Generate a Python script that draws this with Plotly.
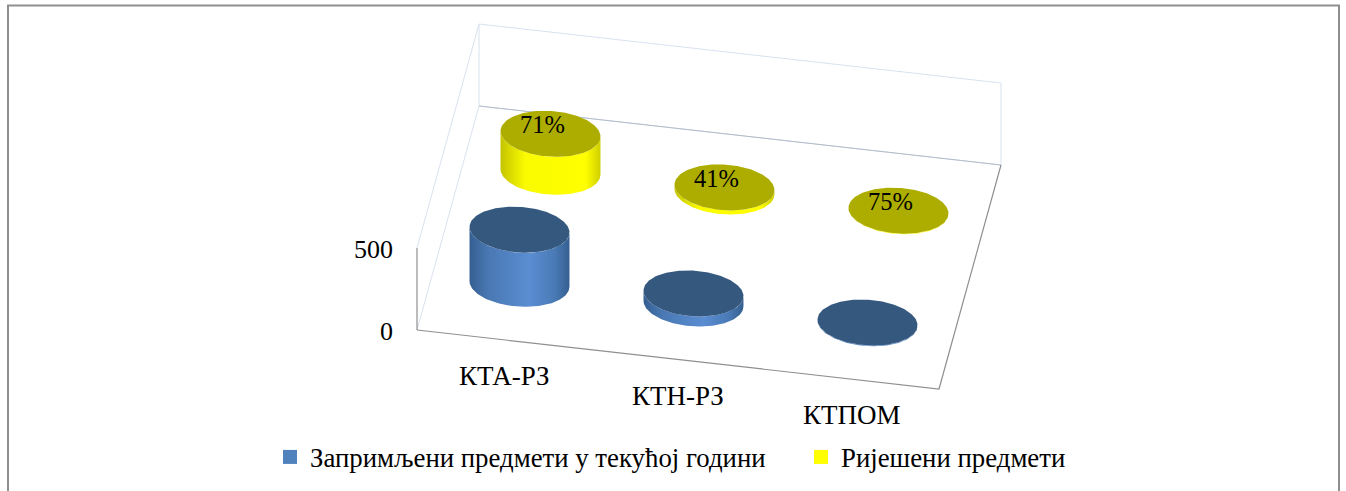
import numpy as np
import plotly.graph_objects as go

# ---- data ----
categories = ["КТА-РЗ", "КТН-РЗ", "КТПОМ"]
received = [330, 61, 4]
resolved = [232, 25, 3]
percent_labels = ["71%", "41%", "75%"]
series_names = ["Запримљени предмети у текућој години", "Ријешени предмети"]
value_ticks = [0, 500]
value_max = 500

# ---- style ----
FONT = "Liberation Serif"
BLUE_TOP, YEL_TOP = "#35587f", "#adad00"
BLUE_SIDE = [[0, "#355f92"], [0.2, "#4a79b4"], [0.6, "#5a8dd2"], [0.85, "#4a7ab6"], [1, "#355f90"]]
YEL_SIDE = [[0, "#c4c400"], [0.25, "#fbfb00"], [0.85, "#ffff00"], [1, "#cfcf00"]]
WALL, EDGE = "#d9e2f0", "#8f8f8f"

# oblique projection of the chart box onto the page
O = np.array([417.0, 330.0])
UX = np.array([522.0, 59.0])   # along categories
UY = np.array([62.0, -224.0])  # along depth
UZ = np.array([0.0, -82.0])    # along value axis, full scale


def proj(a, b, v=0.0):
    return O + np.asarray(a)[..., None] * UX + np.asarray(b)[..., None] * UY + (np.asarray(v) / value_max)[..., None] * UZ


fig = go.Figure()


def line(a, b, v, color, width=1.0):
    p = proj(np.array(a, float), np.array(b, float), np.array(v, float))
    fig.add_trace(go.Scatter(x=p[:, 0], y=p[:, 1], mode="lines", line=dict(color=color, width=width),
                             hoverinfo="skip", showlegend=False))


# walls
line([0, 0], [0, 1], [0, 0], WALL)
line([0, 0], [0, 1], [value_max, value_max], WALL)
line([0, 1, 1, 0, 0], [1, 1, 1, 1, 1], [value_max, value_max, 0, 0, value_max], WALL)
line([0, 1], [1, 1], [0, 0], "#b4bcc8")
# floor and axis edges
line([0, 1, 1], [0, 0, 1], [0, 0, 0], EDGE, 1.2)
line([0, 0], [0, 0], [0, value_max], EDGE, 1.2)

# radius of a column footprint, as a fraction of the category / depth step
RA, RB = 0.095, 0.0996
t = np.linspace(0, 2 * np.pi, 181)


def cylinder(i, s, value, side, top, label=None):
    a0, b0 = (2 * i + 1) / 6, (2 * s + 1) / 4
    ring_a, ring_b = a0 + RA * np.cos(t), b0 + RB * np.sin(t)
    cap = proj(ring_a, ring_b, np.full_like(t, float(value)))
    # silhouette: front half of the ring between its two horizontal extremes
    tr = np.arctan2(RB * UY[0], RA * UX[0])
    tf = np.linspace(tr, tr - np.pi, 91)
    fa, fb = a0 + RA * np.cos(tf), b0 + RB * np.sin(tf)
    fbase = proj(fa, fb, np.zeros_like(tf))
    fcap = proj(fa, fb, np.full_like(tf, float(value)))
    poly = np.vstack([fbase, fcap[::-1], fbase[:1]])
    fig.add_trace(go.Scatter(
        x=poly[:, 0], y=poly[:, 1], mode="lines", line=dict(width=0), fill="toself",
        fillgradient=dict(type="horizontal", colorscale=side, start=poly[:, 0].min(), stop=poly[:, 0].max()),
        hoverinfo="skip", showlegend=False))
    fig.add_trace(go.Scatter(x=cap[:, 0], y=cap[:, 1], mode="lines", line=dict(width=0), fill="toself",
                             fillcolor=top, hoverinfo="skip", showlegend=False))
    if label:
        c = proj(a0, b0, float(value))
        fig.add_annotation(x=c[0], y=c[1], xshift=-8, yshift=9, text=label, showarrow=False,
                           font=dict(family=FONT, size=24.5, color="#000"))


for i in range(3):
    cylinder(i, 1, resolved[i], YEL_SIDE, YEL_TOP, percent_labels[i])
for i in range(3):
    cylinder(i, 0, received[i], BLUE_SIDE, BLUE_TOP)

# tick labels
for v in value_ticks:
    p = proj(0.0, 0.0, float(v))
    fig.add_annotation(x=p[0] - 22, y=p[1] + 1, text=str(v), showarrow=False, xanchor="right",
                       font=dict(family=FONT, size=26, color="#000"))
for i, c in enumerate(categories):
    p = proj((2 * i + 1) / 6, 0.0, 0.0)
    fig.add_annotation(x=p[0], y=p[1] + 36, text=c, showarrow=False,
                       font=dict(family=FONT, size=27, color="#000"))

# legend
for name, col in zip(series_names, ["#4f81bd", "#ffff00"]):
    fig.add_trace(go.Scatter(x=[None], y=[None], mode="markers", name=name,
                             marker=dict(symbol="square", size=14, color=col)))

fig.update_layout(
    width=1346, height=491, margin=dict(l=0, r=0, t=0, b=0, pad=0, autoexpand=False),
    paper_bgcolor="white", plot_bgcolor="white",
    xaxis=dict(range=[0, 1346], visible=False, fixedrange=True),
    yaxis=dict(range=[491, 0], visible=False, fixedrange=True),
    legend=dict(orientation="h", x=270 / 1346, xanchor="left", y=1 - 433 / 491, yanchor="top",
                entrywidth=486, entrywidthmode="pixels", itemwidth=30, tracegroupgap=0,
                font=dict(family=FONT, size=26.8, color="#000"), bgcolor="rgba(0,0,0,0)"),
    shapes=[
        dict(type="path", path="M 8 491 L 8 5.5 L 1339 5.5 L 1339 491", line=dict(color="#8f8f8f", width=2), layer="below"),
    ],
)
fig.write_html("out.html", config=dict(displayModeBar=False),
               post_script="document.body.style.margin='0';document.documentElement.style.overflow='hidden';")
